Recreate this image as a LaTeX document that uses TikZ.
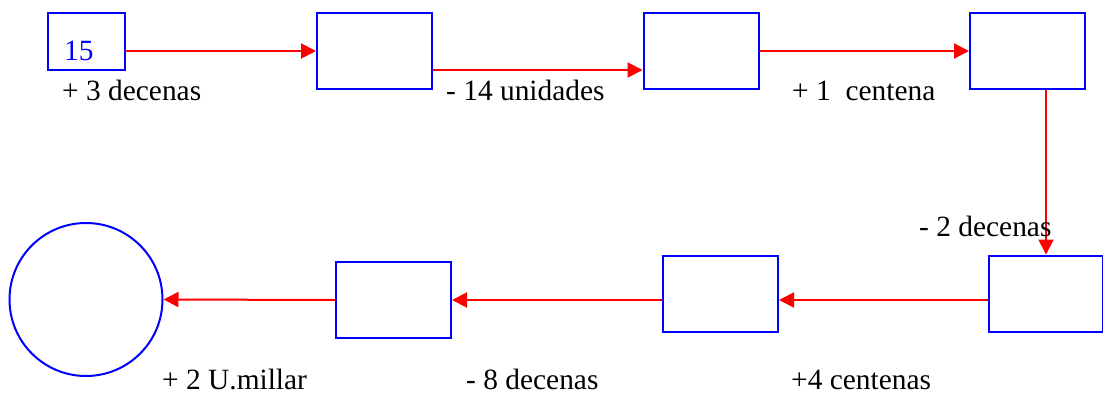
\documentclass[tikz,border=0pt]{standalone}
\usepackage{fontspec}
\setmainfont{Liberation Serif}
\usetikzlibrary{arrows.meta}
\begin{document}
\begin{tikzpicture}[x=1pt,y=-1pt,
  box/.style={draw=blue,line width=2pt,rectangle,inner sep=0pt,minimum width=115pt,minimum height=76pt},
  arr/.style={draw=red,line width=2pt,-{Triangle[length=15pt,width=15pt]}},
  lbl/.style={inner sep=0pt,anchor=base west,font=\fontsize{29.4}{34}\selectfont}]
\useasboundingbox (0,0) rectangle (1103,394);
\node[box,minimum width=77pt,minimum height=57pt] (b1) at (86.5,41.5) {};
\node[lbl,text=blue] (n15) at (64,60) {15};
\node[box] (b2) at (374.5,51) {};
\node[box] (b3) at (701,51) {};
\node[box] (b4) at (1027.5,51) {};
\node[box,minimum width=114pt] (b5) at (1046,293.5) {};
\node[box] (b6) at (720.5,293.5) {};
\node[box] (b7) at (393.5,300) {};
\node[draw=blue,line width=2pt,circle,minimum size=153pt,inner sep=0pt] (c) at (86,299.5) {};
\draw[arr] ([yshift=-9.5pt]b1.east) -- (b2.west);
\draw[arr] ([yshift=-19pt]b2.east) -- ([yshift=-19pt]b3.west);
\draw[arr] (b3.east) -- (b4.west);
\draw[arr] ([xshift=18.5pt]b4.south) -- (b5.north);
\draw[arr] ([yshift=-6.5pt]b5.west) -- ([yshift=-6.5pt]b6.east);
\draw[arr] ([yshift=-6.5pt]b6.west) -- (b7.east);
\draw[arr] (b7.west) -- (c.east);
\node[lbl] (l1) at (62,100) {+ 3 decenas};
\node[lbl] (l2) at (446,100) {- 14 unidades};
\node[lbl] (l3) at (792,100) {+ 1\ \ centena};
\node[lbl] (l4) at (919,236) {- 2 decenas};
\node[lbl] (l5) at (791,389) {+4 centenas};
\node[lbl] (l6) at (466,389) {- 8 decenas};
\node[lbl] (l7) at (162,389) {+ 2 U.millar};
\end{tikzpicture}
\end{document}
